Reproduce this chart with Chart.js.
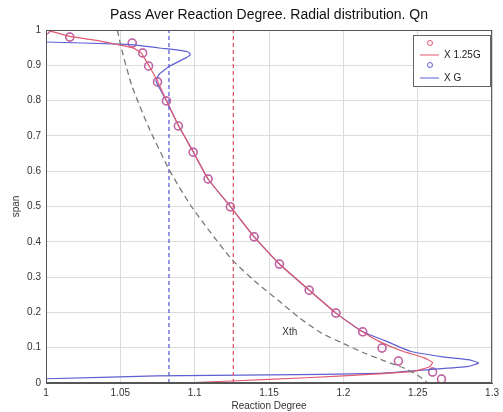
<!DOCTYPE html>
<html>
<head>
<meta charset="utf-8">
<script src="https://cdn.jsdelivr.net/npm/chart.js@4.4.1/dist/chart.umd.min.js"></script>
<style>
  html, body { margin: 0; padding: 0; background: #fff; }
  #wrap { width: 503px; height: 412px; }
</style>
</head>
<body>
<div id="wrap"><canvas id="chart" width="503" height="412"></canvas></div>
<script>
// Chart values
const xTicks = [1, 1.05, 1.1, 1.15, 1.2, 1.25, 1.3];
const yTicks = [0, 0.1, 0.2, 0.3, 0.4, 0.5, 0.6, 0.7, 0.8, 0.9, 1];

// X 1.25G line
const redX = [1.0, 1.017, 1.035, 1.049, 1.058, 1.064, 1.069, 1.075, 1.081, 1.089, 1.099, 1.109, 1.124, 1.140, 1.157, 1.177, 1.195, 1.213, 1.224, 1.240, 1.254, 1.260, 1.258, 1.247, 1.200, 1.150, 1.091];
const redY = [1.0, 0.981, 0.970, 0.958, 0.950, 0.935, 0.900, 0.855, 0.800, 0.730, 0.655, 0.578, 0.500, 0.414, 0.337, 0.263, 0.198, 0.145, 0.118, 0.090, 0.072, 0.058, 0.046, 0.033, 0.020, 0.010, 0.0];

// X G line
const blueX = [1.0, 1.050, 1.065, 1.076, 1.089, 1.096, 1.097, 1.094, 1.083, 1.076, 1.074, 1.081, 1.089, 1.099, 1.109, 1.124, 1.140, 1.157, 1.177, 1.195, 1.213, 1.228, 1.245, 1.267, 1.284, 1.291, 1.284, 1.258, 1.223, 1.150, 1.074, 1.0];
const blueY = [0.966, 0.960, 0.955, 0.949, 0.943, 0.937, 0.930, 0.921, 0.897, 0.874, 0.855, 0.800, 0.730, 0.655, 0.578, 0.500, 0.414, 0.337, 0.263, 0.198, 0.145, 0.120, 0.090, 0.074, 0.066, 0.057, 0.047, 0.038, 0.027, 0.023, 0.020, 0.012];

// circle markers
const circX = [1.0, 1.016, 1.058, 1.065, 1.069, 1.075, 1.081, 1.089, 1.099, 1.109, 1.124, 1.140, 1.157, 1.177, 1.195, 1.213, 1.226, 1.237, 1.260, 1.266];
const circY = [1.0, 0.980, 0.963, 0.935, 0.898, 0.853, 0.799, 0.728, 0.654, 0.578, 0.499, 0.414, 0.337, 0.263, 0.198, 0.145, 0.099, 0.062, 0.031, 0.011];

// Xth dashed curve
const xthX = [1.048, 1.051, 1.058, 1.069, 1.083, 1.097, 1.110, 1.125, 1.140, 1.156, 1.170, 1.185, 1.200, 1.214, 1.228, 1.241, 1.250, 1.256];
const xthY = [1.0, 0.943, 0.839, 0.725, 0.603, 0.505, 0.430, 0.350, 0.290, 0.235, 0.186, 0.142, 0.112, 0.085, 0.062, 0.042, 0.022, 0.003];

// vertical reference lines
const vBlue = 1.0827;
const vRed = 1.126;

const RED = 'rgb(225, 90, 112)';
const BLUE = 'rgb(95, 95, 210)';
const FONT = '"Liberation Sans", Arial, sans-serif';

function pts(xs, ys) { return xs.map((x, i) => ({ x: x, y: ys[i] })); }
function fmt(v) { return String(+Number(v).toFixed(2)); }

// box around the plot, "Xth" label and the legend
const extras = {
  id: 'extras',
  afterDraw(chart) {
    const c = chart.ctx, a = chart.chartArea;
    const xs = chart.scales.x, ys = chart.scales.y;
    c.save();
    c.strokeStyle = '#555';
    c.lineWidth = 1;
    c.strokeRect(a.left + 0.5, a.top + 0.5, a.right - a.left - 1, a.bottom - a.top - 1);

    c.fillStyle = '#333';
    c.font = '10px ' + FONT;
    c.textAlign = 'center';
    c.textBaseline = 'middle';
    c.fillText('Xth', xs.getPixelForValue(1.164), ys.getPixelForValue(0.145));

    // legend box
    const lx = 413, ly = 35, lw = 77, lh = 51;
    c.fillStyle = '#fff';
    c.fillRect(lx, ly, lw, lh);
    c.strokeStyle = '#666';
    c.strokeRect(lx + 0.5, ly + 0.5, lw, lh);
    const rows = [[RED, 'X 1.25G', 43, 55], [BLUE, 'X G', 65, 78]];
    rows.forEach(r => {
      c.strokeStyle = r[0];
      c.beginPath();
      c.arc(430, r[2], 2.5, 0, Math.PI * 2);
      c.stroke();
      c.beginPath();
      c.moveTo(420, r[3]);
      c.lineTo(439, r[3]);
      c.stroke();
      c.fillStyle = '#222';
      c.textAlign = 'left';
      c.fillText(r[1], 444, r[3]);
    });
    c.restore();
  }
};

new Chart(document.getElementById('chart'), {
  type: 'scatter',
  data: {
    datasets: [
      { data: pts(xthX, xthY), showLine: true, borderColor: '#7a7a7a', borderWidth: 1.3, borderDash: [6, 4], pointRadius: 0, tension: 0.2 },
      { data: [{ x: vBlue, y: 0 }, { x: vBlue, y: 1 }], showLine: true, borderColor: BLUE, borderWidth: 1.3, borderDash: [4, 3], pointRadius: 0 },
      { data: [{ x: vRed, y: 0 }, { x: vRed, y: 1 }], showLine: true, borderColor: RED, borderWidth: 1.3, borderDash: [4, 3], pointRadius: 0 },
      { data: pts(redX, redY), showLine: true, borderColor: RED, borderWidth: 1.2, pointRadius: 0, tension: 0.15 },
      { data: pts(blueX, blueY), showLine: true, borderColor: BLUE, borderWidth: 1.2, pointRadius: 0, tension: 0.15 },
      { data: pts(circX, circY), showLine: false, pointRadius: 4, pointBorderWidth: 1.5, pointBackgroundColor: 'rgba(0,0,0,0)', pointBorderColor: 'rgba(200, 90, 150, 0.9)' },
      { data: pts(circX, circY), showLine: false, pointRadius: 4, pointBorderWidth: 1.2, pointBackgroundColor: 'rgba(0,0,0,0)', pointBorderColor: 'rgba(110, 100, 220, 0.6)' }
    ]
  },
  options: {
    responsive: false,
    animation: false,
    layout: { padding: { left: 10, right: 7, top: 0, bottom: 0 } },
    plugins: {
      legend: { display: false },
      tooltip: { enabled: false },
      title: {
        display: true,
        fullSize: false,
        text: 'Pass Aver Reaction Degree. Radial distribution. Qn',
        color: '#111',
        font: { family: FONT, size: 14, weight: 'normal', lineHeight: 1.2 },
        padding: { top: 7, bottom: 6.2 }
      }
    },
    scales: {
      x: {
        type: 'linear', min: 1, max: 1.3,
        afterBuildTicks: s => { s.ticks = xTicks.map(v => ({ value: v })); },
        afterFit: s => { s.height = 29; },
        grid: { color: '#dcdcdc', drawTicks: false },
        border: { color: '#555' },
        ticks: { color: '#333', padding: 4, font: { family: FONT, size: 10 }, maxRotation: 0, callback: v => fmt(v) },
        title: { display: true, text: 'Reaction Degree', color: '#333', padding: 0, font: { family: FONT, size: 10 } }
      },
      y: {
        type: 'linear', min: 0, max: 1,
        afterBuildTicks: s => { s.ticks = yTicks.map(v => ({ value: v })); },
        afterFit: s => { s.width = 36; },
        grid: { color: '#dcdcdc', drawTicks: false },
        border: { color: '#555' },
        ticks: { color: '#333', padding: 5, font: { family: FONT, size: 10 }, callback: v => fmt(v) },
        title: { display: true, text: 'span', color: '#333', padding: 0, font: { family: FONT, size: 10 } }
      }
    }
  },
  plugins: [extras]
});
</script>
</body>
</html>
